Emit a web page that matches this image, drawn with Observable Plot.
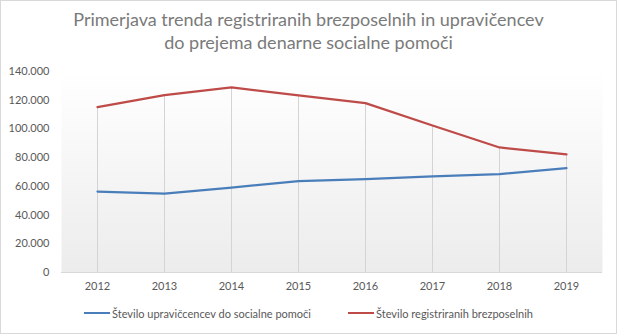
<!DOCTYPE html>
<html><head><meta charset="utf-8">
<script src="https://cdn.jsdelivr.net/npm/d3@7"></script>
<script src="https://cdn.jsdelivr.net/npm/@observablehq/plot@0.6"></script>
<style>
html,body{margin:0;padding:0;background:#fff;}
#chart{position:relative;width:617px;height:334px;font-family:Lato,"Open Sans",sans-serif;overflow:hidden;background:#fff}
#border{position:absolute;left:0;top:0;width:617px;height:334px;box-sizing:border-box;border:1px solid #d9d9d9;pointer-events:none}
#title{position:absolute;left:0;top:8px;width:617px;text-align:center;color:#7a7a7a;font-size:18px;line-height:23px}
#plot{position:absolute;left:0;top:60px}
.leg{position:absolute;top:305px;height:16px;display:flex;align-items:center;font-size:11px;color:#595959;white-space:nowrap}
.leg span.sw{display:inline-block;width:26px;height:2px;margin-right:2px}
</style></head>
<body>
<div id="chart">
  <div id="title">Primerjava trenda registriranih brezposelnih in upravičencev<br>do prejema denarne socialne pomoči</div>
  <div id="plot"></div>
  <div class="leg" id="leg1" style="left:84px"><span class="sw" style="background:#4a7ebb"></span><span id="lab1"></span></div>
  <div class="leg" id="leg2" style="left:348px"><span class="sw" style="background:#be4b48"></span><span id="lab2"></span></div>
  <div id="border"></div>
</div>
<script>
const years = [2012, 2013, 2014, 2015, 2016, 2017, 2018, 2019];
const upravicenci = [56400, 55000, 59200, 63600, 65000, 66900, 68500, 72700];
const brezposelni = [115200, 123600, 128900, 123300, 118000, 102400, 87100, 82200];
const seriesNames = ["Število upravičcencev do socialne pomoči", "Število registriranih brezposelnih"];
const seriesColors = ["#4a7ebb", "#be4b48"];
const yTicks = [0, 20000, 40000, 60000, 80000, 100000, 120000, 140000];

document.getElementById("lab1").textContent = seriesNames[0];
document.getElementById("lab2").textContent = seriesNames[1];

const rows = years.flatMap((yr, i) => [
  {year: yr, value: upravicenci[i], series: seriesNames[0]},
  {year: yr, value: brezposelni[i], series: seriesNames[1]}
]);
const drops = years.map((yr, i) => ({year: yr, top: Math.max(upravicenci[i], brezposelni[i])}));
const slLocale = d3.formatLocale({decimal: ",", thousands: ".", grouping: [3], currency: ["", " €"]});
const fmt = slLocale.format(",d");

const defs = () => {
  const g = d3.create("svg:defs");
  const lg = g.append("linearGradient").attr("id", "bgGrad").attr("x1", 0).attr("y1", 0).attr("x2", 0).attr("y2", 1);
  lg.append("stop").attr("offset", "0%").attr("stop-color", "#ffffff");
  lg.append("stop").attr("offset", "100%").attr("stop-color", "#ececec");
  return g.node();
};

const chart = Plot.plot({
  width: 617,
  height: 240,
  marginTop: 11,
  marginBottom: 28,
  marginLeft: 61,
  marginRight: 15,
  style: {background: "transparent", fontFamily: "Lato, 'Open Sans', sans-serif", fontSize: "11px", color: "#595959"},
  x: {type: "point", domain: years, padding: 0.5, label: null},
  y: {domain: [0, 140000], label: null},
  color: {domain: seriesNames, range: seriesColors},
  marks: [
    defs,
    Plot.frame({fill: "url(#bgGrad)", stroke: null}),
    Plot.ruleX(drops, {x: "year", y1: 0, y2: "top", stroke: "#d4d4d4", strokeWidth: 1}),
    Plot.ruleY([0], {stroke: "#d9d9d9", strokeWidth: 1}),
    Plot.axisY({ticks: yTicks, tickFormat: fmt, tickSize: 0, tickPadding: 12, fill: "#595959"}),
    Plot.axisX({tickSize: 0, tickPadding: 10, tickFormat: d => String(d), fill: "#595959"}),
    Plot.line(rows, {x: "year", y: "value", z: "series", stroke: "series", strokeWidth: 2.25})
  ]
});
document.getElementById("plot").appendChild(chart);
</script>
</body></html>
